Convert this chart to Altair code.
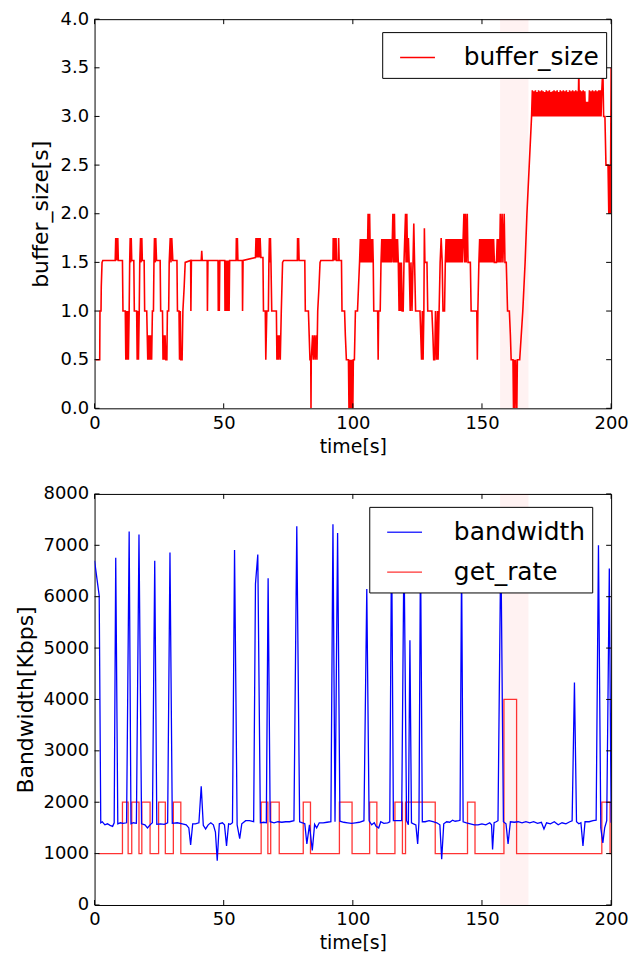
import altair as alt
import pandas as pd

# ---------------- data ----------------
buf_t = [
    0.5, 2.0, 2.1, 2.5, 2.6, 2.9, 3.2, 8.0, 8.2, 8.4,
    8.6, 8.8, 9.0, 9.2, 10.8, 11.0, 11.9, 12.1, 12.4, 12.6,
    12.9, 13.1, 13.4, 13.6, 13.8, 14.0, 14.2, 14.4, 15.2, 15.4,
    16.3, 16.5, 16.8, 17.0, 17.3, 17.5, 17.8, 18.0, 18.3, 18.5,
    19.2, 19.4, 20.2, 20.4, 20.6, 20.9, 21.1, 21.4, 21.6, 21.9,
    22.1, 22.4, 22.8, 23.0, 23.2, 23.5, 23.7, 24.0, 25.4, 25.6,
    26.3, 26.5, 26.8, 27.0, 27.3, 27.6, 28.0, 28.2, 28.7, 28.9,
    29.3, 29.6, 29.9, 30.3, 31.9, 32.1, 32.7, 32.9, 33.2, 33.4,
    33.9, 34.2, 34.7, 35.1, 37.2, 37.3, 37.5, 41.3, 41.5, 41.7,
    43.6, 43.7, 43.9, 47.8, 47.9, 48.1, 48.3, 48.5, 50.4, 50.5,
    50.7, 51.0, 51.2, 51.6, 51.8, 52.1, 52.3, 54.8, 54.9, 55.1,
    55.3, 55.5, 57.2, 57.3, 57.5, 62.3, 62.5, 62.7, 62.9, 63.1,
    63.3, 63.5, 63.7, 63.9, 64.1, 64.4, 65.2, 65.4, 66.1, 66.3,
    66.7, 67.3, 67.5, 67.7, 67.9, 68.1, 68.3, 68.6, 70.4, 70.6,
    71.0, 71.2, 71.6, 71.9, 72.3, 72.8, 73.2, 78.5, 78.6, 78.8,
    79.0, 79.2, 81.4, 81.6, 82.8, 83.1, 83.4, 83.7, 83.8, 83.9,
    84.4, 84.7, 85.1, 85.4, 85.8, 86.1, 86.4, 86.9, 87.3, 87.6,
    92.3, 92.4, 92.6, 92.9, 93.1, 93.5, 93.7, 94.4, 94.5, 94.7,
    95.6, 95.8, 96.8, 97.1, 97.5, 98.3, 98.5, 98.7, 99.0, 99.2,
    99.5, 99.7, 100.0, 100.2, 100.6, 101.0, 101.8, 102.2, 102.6, 102.9,
    103.2, 103.5, 103.8, 104.1, 104.4, 104.7, 105.0, 105.3, 105.6, 105.9,
    106.2, 106.5, 106.8, 107.1, 107.4, 107.7, 107.9, 108.1, 109.6, 109.8,
    110.0, 110.6, 110.9, 111.2, 111.5, 111.8, 112.1, 112.4, 112.7, 113.0,
    113.3, 113.6, 113.9, 114.2, 114.5, 114.8, 115.1, 115.5, 115.8, 116.1,
    116.4, 116.7, 117.0, 117.3, 117.6, 117.9, 118.2, 118.5, 118.8, 119.1,
    119.5, 119.8, 120.1, 120.4, 120.6, 120.9, 121.2, 121.5, 121.8, 122.2,
    122.5, 122.9, 123.3, 123.6, 123.9, 124.3, 126.0, 126.3, 126.6, 126.9,
    127.2, 127.5, 127.7, 127.9, 128.7, 129.0, 130.6, 131.0, 131.3, 131.7,
    132.0, 132.4, 132.8, 133.0, 133.4, 133.8, 134.2, 134.6, 134.9, 135.5,
    135.8, 136.1, 136.4, 136.7, 137.0, 137.3, 137.6, 137.9, 138.2, 138.5,
    138.8, 139.1, 139.4, 139.7, 140.0, 140.3, 140.6, 140.9, 141.2, 141.5,
    141.8, 142.1, 142.4, 142.7, 143.0, 143.3, 143.6, 143.9, 144.3, 144.6,
    145.5, 145.8, 148.0, 148.2, 148.4, 148.8, 149.1, 149.4, 149.7, 150.0,
    150.3, 150.6, 150.9, 151.2, 151.5, 151.8, 152.1, 152.4, 152.7, 153.0,
    153.3, 153.6, 153.9, 154.2, 154.5, 154.8, 155.6, 155.9, 156.2, 156.5,
    156.8, 157.1, 157.4, 157.8, 158.1, 158.6, 158.9, 159.4, 159.9, 160.6,
    161.0, 161.3, 162.0, 162.2, 162.4, 162.8, 163.0, 163.5, 163.7, 164.6,
    165.8, 166.7, 167.4, 168.3, 169.2, 169.5, 169.8, 170.1, 170.4, 170.7,
    171.0, 171.3, 171.6, 171.9, 172.2, 172.5, 172.8, 173.1, 173.4, 173.7,
    174.0, 174.3, 174.6, 174.9, 175.2, 175.5, 175.8, 176.1, 176.4, 176.7,
    177.0, 177.3, 177.6, 177.9, 178.2, 178.5, 178.8, 179.1, 179.4, 179.7,
    180.0, 180.3, 180.6, 180.9, 181.2, 181.5, 181.8, 182.1, 182.4, 182.7,
    183.0, 183.3, 183.6, 183.9, 184.2, 184.5, 184.8, 185.1, 185.4, 185.7,
    186.0, 186.3, 186.6, 186.9, 187.2, 187.5, 187.7, 188.0, 188.3, 188.6,
    188.9, 189.2, 189.5, 189.8, 190.1, 190.4, 190.7, 191.0, 191.3, 191.6,
    191.9, 192.2, 192.5, 192.8, 193.1, 193.4, 193.7, 194.0, 194.3, 194.6,
    194.9, 195.2, 195.5, 195.8, 196.1, 196.4, 196.8, 197.1, 197.6, 198.0,
    198.8, 199.1, 199.4, 199.7, 200.0,
]
buf_v = [
    0.5, 0.5, 1.0, 1.0, 1.25, 1.5, 1.52, 1.52, 1.75, 1.52,
    1.75, 1.52, 1.75, 1.52, 1.52, 1.0, 1.0, 0.5, 1.0, 0.5,
    1.0, 0.5, 1.0, 1.5, 1.75, 1.5, 1.75, 1.52, 1.52, 1.0,
    1.0, 0.5, 1.0, 0.5, 1.0, 1.5, 1.75, 1.5, 1.75, 1.52,
    1.52, 1.0, 1.0, 0.75, 0.5, 0.75, 0.5, 0.75, 0.5, 0.75,
    0.5, 1.0, 1.0, 1.5, 1.75, 1.5, 1.75, 1.52, 1.52, 1.0,
    1.0, 0.5, 0.75, 0.5, 0.75, 0.5, 0.5, 1.0, 1.0, 1.5,
    1.75, 1.5, 1.75, 1.52, 1.52, 1.0, 1.0, 0.5, 1.0, 0.5,
    0.5, 1.0, 1.25, 1.5, 1.52, 1.0, 1.52, 1.52, 1.62, 1.52,
    1.52, 1.0, 1.52, 1.52, 1.0, 1.52, 1.0, 1.52, 1.52, 1.0,
    1.52, 1.0, 1.52, 1.0, 1.52, 1.0, 1.52, 1.52, 1.75, 1.52,
    1.75, 1.52, 1.52, 1.0, 1.52, 1.55, 1.75, 1.55, 1.75, 1.55,
    1.75, 1.55, 1.75, 1.55, 1.75, 1.55, 1.55, 1.0, 1.0, 0.5,
    1.0, 1.0, 1.5, 1.75, 1.5, 1.75, 1.5, 1.0, 1.0, 0.5,
    0.75, 0.5, 0.75, 0.5, 1.0, 1.5, 1.52, 1.52, 1.75, 1.52,
    1.75, 1.52, 1.52, 1.0, 1.0, 0.75, 0.5, 0.5, 0.0, 0.5,
    0.75, 0.5, 0.75, 0.5, 0.75, 0.5, 1.0, 1.25, 1.5, 1.52,
    1.52, 1.75, 1.52, 1.75, 1.52, 1.75, 1.52, 1.52, 1.75, 1.52,
    1.52, 1.0, 1.0, 0.75, 0.5, 0.5, 0.0, 0.5, 0.0, 0.5,
    0.0, 0.5, 0.0, 0.5, 0.5, 1.0, 1.0, 1.25, 1.5, 1.74,
    1.5, 1.74, 1.5, 1.74, 1.5, 1.74, 1.5, 1.74, 1.5, 2.0,
    1.5, 2.0, 1.5, 1.74, 1.5, 1.74, 1.5, 1.0, 1.0, 0.5,
    1.0, 1.0, 1.5, 1.74, 1.5, 1.74, 1.5, 1.74, 1.5, 1.74,
    1.5, 1.74, 1.5, 1.74, 1.5, 1.74, 1.5, 2.0, 1.5, 2.0,
    1.5, 1.74, 1.5, 1.74, 1.5, 1.0, 1.5, 1.0, 1.5, 1.0,
    1.0, 1.5, 1.75, 2.0, 1.5, 2.0, 1.5, 1.75, 1.5, 1.0,
    1.5, 1.0, 1.5, 1.9, 1.5, 1.0, 1.0, 0.75, 0.5, 1.0,
    0.5, 1.0, 1.85, 1.5, 1.5, 1.0, 1.0, 0.75, 0.5, 0.5,
    1.0, 0.5, 1.0, 0.5, 1.0, 1.5, 1.75, 1.5, 1.0, 1.0,
    1.5, 1.74, 1.5, 1.74, 1.5, 1.74, 1.5, 1.74, 1.5, 1.74,
    1.5, 1.74, 1.5, 1.74, 1.5, 1.74, 1.5, 1.74, 1.5, 1.74,
    1.5, 1.74, 1.5, 1.74, 2.0, 1.5, 2.0, 1.5, 2.0, 1.5,
    1.5, 1.0, 1.0, 0.5, 1.0, 1.5, 1.74, 1.5, 1.74, 1.5,
    1.74, 1.5, 1.74, 1.5, 1.74, 1.5, 1.74, 1.5, 1.74, 1.5,
    1.74, 1.5, 1.74, 1.5, 1.74, 1.5, 1.5, 1.74, 1.5, 1.74,
    1.5, 2.0, 1.5, 2.0, 1.5, 2.0, 1.5, 1.5, 1.0, 1.0,
    0.75, 0.5, 0.5, 0.0, 0.5, 0.0, 0.5, 0.0, 0.5, 0.5,
    1.0, 1.5, 2.0, 2.5, 3.0, 3.27, 3.0, 3.26, 3.0, 3.27,
    3.0, 3.25, 3.0, 3.27, 3.0, 3.26, 3.0, 3.27, 3.0, 3.26,
    3.0, 3.25, 3.0, 3.27, 3.0, 3.26, 3.0, 3.27, 3.0, 3.25,
    3.0, 3.26, 3.0, 3.27, 3.0, 3.26, 3.0, 3.27, 3.0, 3.25,
    3.0, 3.27, 3.0, 3.26, 3.0, 3.27, 3.0, 3.26, 3.0, 3.27,
    3.0, 3.25, 3.0, 3.27, 3.0, 3.26, 3.0, 3.27, 3.0, 3.26,
    3.0, 3.27, 3.0, 3.26, 3.0, 3.5, 3.0, 3.27, 3.0, 3.26,
    3.0, 3.27, 3.0, 3.26, 3.0, 3.15, 3.0, 3.15, 3.0, 3.27,
    3.0, 3.26, 3.0, 3.27, 3.0, 3.26, 3.0, 3.27, 3.0, 3.26,
    3.0, 3.27, 3.0, 3.27, 3.0, 3.27, 3.5, 3.0, 3.0, 2.5,
    2.5, 2.0, 2.5, 2.0, 3.5,
]

bw_t = [
    0.0, 1.8, 2.4, 3.0, 4.0, 5.0, 6.0, 7.0, 7.6, 8.2,
    9.0, 10.0, 11.0, 12.4, 13.4, 14.1, 15.0, 16.2, 17.2, 18.2,
    19.5, 20.5, 21.5, 22.4, 23.3, 24.1, 25.5, 27.0, 28.3, 29.2,
    30.1, 32.0, 34.0, 35.5, 36.5, 37.2, 38.0, 39.0, 40.4, 41.3,
    42.1, 43.0, 44.0, 45.0, 46.0, 46.8, 47.5, 48.3, 49.5, 50.3,
    51.1, 51.9, 52.6, 53.4, 54.2, 55.2, 56.2, 57.0, 58.5, 60.0,
    61.6, 62.3, 63.2, 64.2, 65.5, 66.5, 67.2, 68.0, 69.5, 71.0,
    72.5, 74.0, 75.5, 77.2, 78.3, 79.4, 80.5, 81.4, 82.2, 83.2,
    84.3, 85.2, 86.0, 87.0, 88.5, 90.0, 91.5, 92.3, 93.1, 94.1,
    95.0, 96.5, 98.0, 99.5, 101.0, 102.5, 104.3, 105.4, 106.3, 107.3,
    108.3, 109.0, 110.0, 110.8, 112.0, 113.5, 114.3, 115.0, 115.7, 117.0,
    118.9, 119.8, 120.8, 121.5, 122.1, 122.7, 123.5, 124.4, 125.1, 125.6,
    126.2, 126.9, 128.0, 129.5, 131.0, 132.5, 133.7, 134.4, 135.2, 136.3,
    137.5, 138.6, 139.6, 141.0, 141.5, 142.1, 142.7, 144.0, 145.5, 147.0,
    148.5, 150.0, 151.5, 153.0, 153.7, 154.1, 154.7, 155.5, 156.2, 157.3,
    158.3, 159.3, 160.1, 161.0, 162.5, 164.0, 165.5, 167.0, 168.5, 170.0,
    171.5, 173.0, 174.0, 175.0, 176.5, 178.0, 179.5, 181.0, 182.5, 184.0,
    184.9, 185.8, 186.6, 187.5, 188.3, 189.1, 189.9, 191.5, 193.0, 194.2,
    195.1, 196.0, 196.8, 197.5, 198.3, 199.3, 200.0,
]
bw_v = [
    6700, 6020, 1600, 1620, 1560, 1580, 1550, 1530, 1600, 6760,
    1580, 1600, 1590, 1600, 7270, 1580, 1600, 1590, 7210, 1580,
    1560, 1500, 1560, 1600, 6700, 1570, 1580, 1570, 1600, 6860,
    1590, 1600, 1580, 1560, 1500, 1170, 1580, 1580, 1600, 2310,
    1550, 1480, 1560, 1600, 1560, 1420, 860, 1580, 1600, 1560,
    1150, 1580, 1570, 1600, 6910, 1560, 1290, 1580, 1640, 1640,
    1620, 6250, 6820, 1600, 1610, 1600, 6360, 1620, 1600, 1620,
    1610, 1620, 1620, 1640, 7370, 1620, 1600, 1580, 1190, 1560,
    1060, 1570, 1500, 1600, 1600, 1610, 1620, 7410, 1620, 7240,
    1630, 1610, 1600, 1590, 1600, 1610, 1640, 6150, 1640, 1560,
    1600, 1530, 1500, 1620, 1590, 1600, 1620, 7300, 1640, 1640,
    1640, 7000, 1640, 1560, 5150, 1600, 1580, 1560, 1190, 1620,
    7000, 1620, 1620, 1640, 1620, 1600, 1560, 890, 1580, 1620,
    1610, 1650, 1630, 1640, 1650, 6700, 1620, 1600, 1580, 1560,
    1560, 1580, 1560, 1600, 1560, 1080, 1600, 1620, 1640, 7100,
    1620, 1580, 1190, 1620, 1610, 1620, 1600, 1620, 1600, 1620,
    1590, 1610, 1480, 1600, 1580, 1620, 1560, 1600, 1580, 1620,
    1640, 4330, 1620, 1580, 1600, 1150, 1620, 1620, 1640, 1650,
    7000, 1500, 1210, 1500, 1640, 6550, 1600,
]

rate_t = [1.5, 10.8, 13.0, 14.4, 17.2, 18.3, 21.5, 24.8, 27.4, 30.5, 33.4,
          64.5, 67.1, 68.2, 71.5, 80.8, 83.6, 94.8, 99.7, 106.5, 109.3,
          116.3, 119.2, 120.4, 131.9, 144.4, 147.3, 158.5, 163.4, 196.4,
          199.6, 200.0]
rate_v = [1000, 2000, 1000, 2000, 1000, 2000, 1000, 2000, 1000, 2000, 1000,
          2000, 1000, 2000, 1000, 2000, 1000, 2000, 1000, 2000, 1000,
          2000, 1000, 2000, 1000, 2000, 1000, 4000, 1000, 2000,
          1000, 1000]

span_start = [157.0]
span_end = [168.0]

x_ticks = [0, 50, 100, 150, 200]
buf_ticks = [0.0, 0.5, 1.0, 1.5, 2.0, 2.5, 3.0, 3.5, 4.0]
bw_ticks = [0, 1000, 2000, 3000, 4000, 5000, 6000, 7000, 8000]

assert len(buf_t) == len(buf_v)
assert len(bw_t) == len(bw_v)
assert len(rate_t) == len(rate_v)

# ---------------- layout constants ----------------
W = 519
H1 = 391
H2 = 413
TICK = 5
FONT = "DejaVu Sans"

xscale = alt.Scale(domain=[0, 200], nice=False, zero=False)
xaxis = alt.Axis(values=x_ticks, title="time[s]", format="d", titlePadding=5)


def legend(x, y, offset):
    return alt.Legend(
        title=None, orient="none", legendX=x, legendY=y,
        symbolType="stroke", symbolSize=1225, symbolStrokeWidth=1.3,
        symbolOffset=10, labelOffset=offset, labelFontSize=25, labelFont=FONT,
        labelColor="black", padding=7, rowPadding=8,
        strokeColor="black", fillColor="white", cornerRadius=0,
    )


def frame_ticks(yvals, yscale, yaxis, h):
    xt = pd.DataFrame({"t": x_ticks})
    yt = pd.DataFrame({"v": yvals})
    base_x = alt.X("t:Q", scale=xscale, axis=xaxis)
    base_y = alt.Y("v:Q", scale=yscale, axis=yaxis)
    bottom = alt.Chart(xt).mark_rule(color="black", strokeWidth=1).encode(
        x=base_x, y=alt.value(h), y2=alt.value(h - TICK))
    top = alt.Chart(xt).mark_rule(color="black", strokeWidth=1).encode(
        x=base_x, y=alt.value(0), y2=alt.value(TICK))
    left = alt.Chart(yt).mark_rule(color="black", strokeWidth=1).encode(
        y=base_y, x=alt.value(0), x2=alt.value(TICK))
    right = alt.Chart(yt).mark_rule(color="black", strokeWidth=1).encode(
        y=base_y, x=alt.value(W - TICK), x2=alt.value(W))
    return [bottom, top, left, right]


def span_layer(h):
    df = pd.DataFrame({"t": span_start, "t_end": span_end})
    return alt.Chart(df).mark_rect(color="#ff0000", opacity=0.05).encode(
        x=alt.X("t:Q", scale=xscale, axis=xaxis), x2="t_end:Q",
        y=alt.value(0), y2=alt.value(h))


# ---------------- top chart: buffer size ----------------
yscale1 = alt.Scale(domain=[0, 4], nice=False, zero=False)
yaxis1 = alt.Axis(values=buf_ticks, format=".1f", title="buffer_size[s]", titlePadding=8)
buf_df = pd.DataFrame({"t": buf_t, "v": buf_v, "series": "buffer_size"})
buf_line = alt.Chart(buf_df).mark_line(strokeWidth=1.6, clip=True).encode(
    x=alt.X("t:Q", scale=xscale, axis=xaxis),
    y=alt.Y("v:Q", scale=yscale1, axis=yaxis1),
    color=alt.Color("series:N",
                    scale=alt.Scale(domain=["buffer_size"], range=["#ff0000"]),
                    legend=legend(289, 13, 28)),
)
top = alt.layer(span_layer(H1), buf_line,
                *frame_ticks(buf_ticks, yscale1, yaxis1, H1)).properties(width=W, height=H1)

# ---------------- bottom chart: bandwidth / get_rate ----------------
yscale2 = alt.Scale(domain=[0, 8000], nice=False, zero=False)
yaxis2 = alt.Axis(values=bw_ticks, format="d", title="Bandwidth[Kbps]", titlePadding=6)
cscale = alt.Scale(domain=["bandwidth", "get_rate"], range=["#0000ff", "#ff0000"])
leg2 = legend(276, 13, 31)
bw_df = pd.DataFrame({"t": bw_t, "v": bw_v, "series": "bandwidth"})
rate_df = pd.DataFrame({"t": rate_t, "v": rate_v, "series": "get_rate"})

bw_line = alt.Chart(bw_df).mark_line(strokeWidth=1.3, clip=True).encode(
    x=alt.X("t:Q", scale=xscale, axis=xaxis),
    y=alt.Y("v:Q", scale=yscale2, axis=yaxis2),
    color=alt.Color("series:N", scale=cscale, legend=leg2),
)
rate_line = alt.Chart(rate_df).mark_line(
    strokeWidth=1.3, clip=True, interpolate="step-after", opacity=0.8).encode(
    x=alt.X("t:Q", scale=xscale, axis=xaxis),
    y=alt.Y("v:Q", scale=yscale2, axis=yaxis2),
    color=alt.Color("series:N", scale=cscale, legend=leg2),
)
bottom = alt.layer(span_layer(H2), rate_line, bw_line,
                   *frame_ticks(bw_ticks, yscale2, yaxis2, H2)).properties(width=W, height=H2)

chart = (
    alt.vconcat(top, bottom, spacing=27)
    .resolve_scale(color="independent")
    .properties(padding={"left": 13, "top": 7, "right": 8, "bottom": 0},
                background="white")
    .configure_view(stroke="black", strokeWidth=1)
    .configure_axis(
        labelFont=FONT, labelFontSize=18, labelColor="black",
        titleFont=FONT, titleFontSize=19, titleFontWeight="normal", titleColor="black",
        grid=False, domain=False, ticks=False, tickSize=0, labelPadding=6,
        labelFlush=False, labelOverlap=False,
    )
    .configure_axisY(titleFontSize=22)
)

chart.save("out.html", embed_options={"renderer": "svg", "actions": False})
